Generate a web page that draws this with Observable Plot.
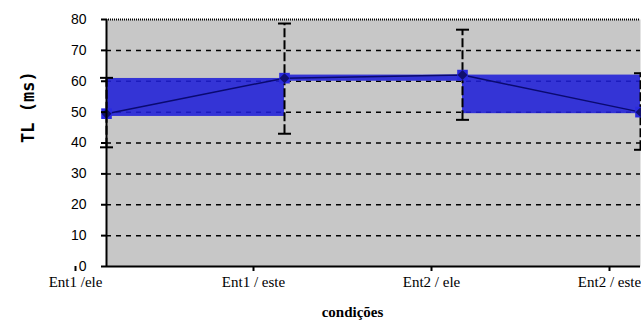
<!DOCTYPE html>
<html>
<head>
<meta charset="utf-8">
<script src="https://cdn.jsdelivr.net/npm/d3@7"></script>
<script src="https://cdn.jsdelivr.net/npm/@observablehq/plot@0.6"></script>
<style>
  html, body { margin: 0; padding: 0; background: white; }
  #chart svg { display: block; }
</style>
</head>
<body>
<div id="chart"></div>
<script>
const categories = ["Ent1 /ele", "Ent1 / este", "Ent2 / ele", "Ent2 / este"];
const means   = [49.5, 61, 62, 50];
const errLow  = [38.6, 43, 47.5, 37.8];
const errHigh = [61.1, 78.7, 76.7, 62.6];
const bandLow  = [48.6, 60, 49.5];
const bandHigh = [60.9, 62, 62];
const yTicks = [0, 10, 20, 30, 40, 50, 60, 70, 80];
const gridLines = [10, 20, 30, 40, 50, 60, 70];

const points = categories.map((c, i) => ({i, c, mean: means[i], lo: errLow[i], hi: errHigh[i]}));
const bands = bandLow.map((lo, i) => ({x1: i, x2: i + 1, lo, hi: bandHigh[i]}));

const capSymbol = {
  draw(context, size) {
    context.moveTo(-6.5, 0);
    context.lineTo(6.5, 0);
  }
};

const svg = Plot.plot({
  width: 641,
  height: 328,
  marginLeft: 106,
  marginRight: 1,
  marginTop: 19,
  marginBottom: 62,
  x: {domain: [0, 3], axis: null},
  y: {domain: [0, 80], axis: null},
  style: {background: "white", fontFamily: "Liberation Sans, Arial, sans-serif"},
  marks: [
    Plot.frame({fill: "url(#dots)", stroke: null}),
    Plot.ruleY(gridLines, {stroke: "black", strokeWidth: 1.5, strokeDasharray: "5,5"}),
    Plot.ruleY([80], {stroke: "black", strokeWidth: 2, strokeDasharray: "1,1"}),
    Plot.rect(bands, {x1: "x1", x2: "x2", y1: "lo", y2: "hi", fill: "#2020d8", fillOpacity: 0.88}),
    Plot.ruleX(points, {x: "i", y1: "lo", y2: "hi", stroke: "black", strokeWidth: 2, strokeDasharray: "9,3"}),
    Plot.dot(points, {x: "i", y: "lo", symbol: capSymbol, stroke: "black", strokeWidth: 2}),
    Plot.dot(points, {x: "i", y: "hi", symbol: capSymbol, stroke: "black", strokeWidth: 2}),
    Plot.line(points, {x: "i", y: "mean", stroke: "#0a0a70", strokeWidth: 1.5}),
    Plot.dot(points, {x: "i", y: "mean", symbol: "square", r: 6, fill: "#2a2ae0"}),
    Plot.dot(points, {x: "i", y: "mean", symbol: "diamond2", r: 4.5, fill: "#10106e"}),
    Plot.ruleX([0], {stroke: "black", strokeWidth: 2}),
    Plot.ruleY([0], {stroke: "black", strokeWidth: 2}),
    Plot.axisY(yTicks, {tickSize: 5, tickPadding: 15, fontSize: 14, fill: "black", stroke: "black", strokeWidth: 2, label: null, fontFamily: "Liberation Sans, Arial, sans-serif"}),
    Plot.axisX([0, 1, 2, 3], {tickFormat: i => categories[i], tickSize: 5, tickPadding: 5, fontSize: 15, fill: "black", stroke: "black", strokeWidth: 2, label: null, dx: -31, fontFamily: "Liberation Serif, Times New Roman, serif"}),
    Plot.text(["condições"], {frameAnchor: "bottom", dy: 46, dx: -21, lineAnchor: "middle", fontSize: 15, fontWeight: "bold", fontFamily: "Liberation Serif, Times New Roman, serif", fill: "black"}),
    Plot.text(["TL (ms)"], {frameAnchor: "left", dx: -78, rotate: -90, lineAnchor: "middle", fontSize: 17, fontWeight: "bold", fontFamily: "DejaVu Sans Mono, monospace", fill: "black"})
  ]
});

svg.insertAdjacentHTML("afterbegin",
  `<defs><pattern id="dots" width="4" height="2" patternUnits="userSpaceOnUse">
     <rect width="4" height="2" fill="#ededed"/>
     <rect x="0" y="0" width="1" height="1" fill="#555"/>
     <rect x="2" y="1" width="1" height="1" fill="#555"/>
   </pattern></defs>`);

document.getElementById("chart").appendChild(svg);
</script>
</body>
</html>
